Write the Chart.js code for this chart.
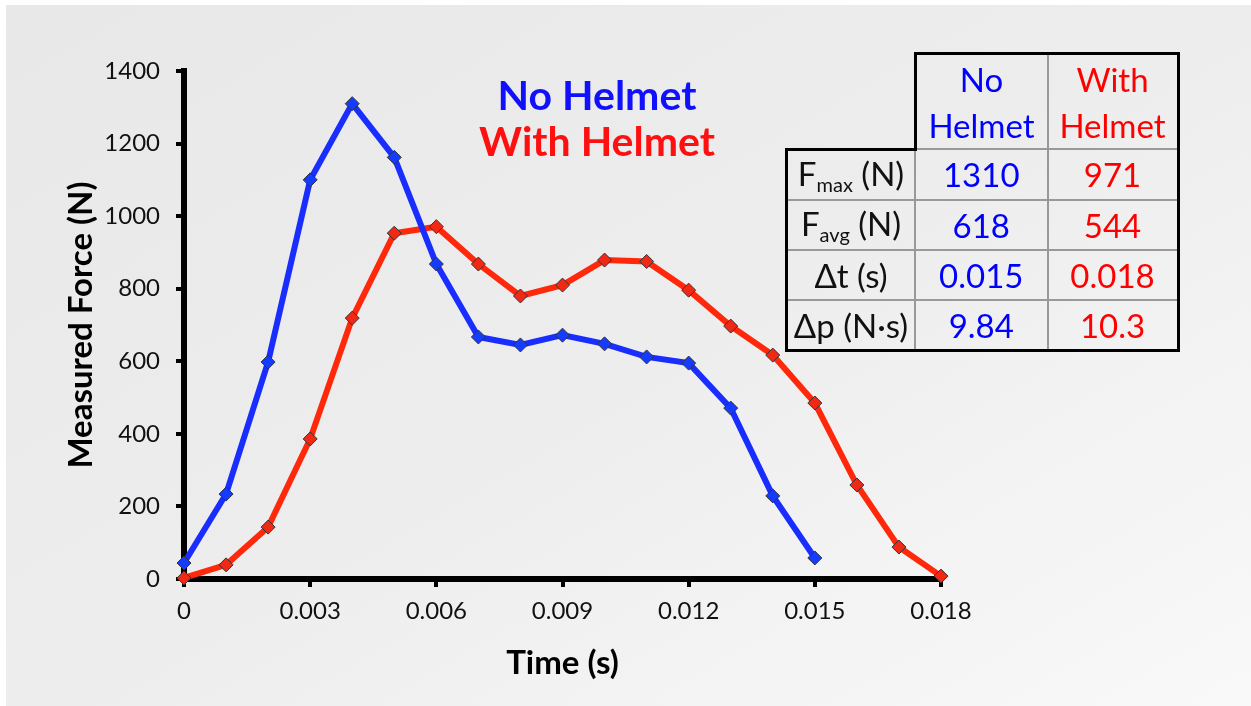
<!DOCTYPE html>
<html>
<head>
<meta charset="utf-8">
<script src="https://cdn.jsdelivr.net/npm/chart.js@4"></script>
<style>
html, body { margin: 0; padding: 0; }
body { width: 1251px; height: 706px; overflow: hidden; background: #fff; position: relative; font-family: Lato, sans-serif; }
#paper { position: absolute; left: 6px; top: 5px; right: 0; bottom: 0;
  background: linear-gradient(150deg, #e8e8e8 0%, #ededed 50%, #f9f9f9 100%); }
#wrap { position: absolute; left: 0; top: 0; width: 1251px; height: 706px; }
.legend { position: absolute; left: 397px; width: 400px; text-align: center; font-weight: bold; font-size: 41px; line-height: 46px; }
#stats { position: absolute; left: 785px; top: 52px; border-collapse: collapse; font-size: 33px; }
#stats td { padding: 0; text-align: center; border: 2px solid #999; }
#stats tr.head td { height: 93px; line-height: 46px; }
#stats tr.body td { height: 48px; }
#stats td.lab { width: 126px; color: #111; }
#stats td.c1 { width: 130px; }
#stats td.c2 { width: 128px; }
#stats sub { font-size: 20px; vertical-align: -6px; }
</style>
</head>
<body>
<div id="paper"></div>
<div id="wrap"><canvas id="myChart" width="1251" height="706"></canvas></div>
<div class="legend" id="leg0" style="top:72px"></div>
<div class="legend" id="leg1" style="top:118px"></div>
<table id="stats"></table>
<script>
// time (s) and measured force (N)
const timeNoHelmet = [0, 0.001, 0.002, 0.003, 0.004, 0.005, 0.006, 0.007, 0.008, 0.009, 0.010, 0.011, 0.012, 0.013, 0.014, 0.015];
const forceNoHelmet = [44, 234, 598, 1100, 1310, 1162, 868, 667, 645, 672, 648, 612, 595, 471, 229, 58];
const timeWithHelmet = [0, 0.001, 0.002, 0.003, 0.004, 0.005, 0.006, 0.007, 0.008, 0.009, 0.010, 0.011, 0.012, 0.013, 0.014, 0.015, 0.016, 0.017, 0.018];
const forceWithHelmet = [3, 39, 143, 386, 719, 953, 971, 868, 780, 810, 879, 875, 796, 697, 617, 485, 259, 88, 8];

const seriesNames = ["No Helmet", "With Helmet"];
const xTicks = [0, 0.003, 0.006, 0.009, 0.012, 0.015, 0.018];
const yTicks = [0, 200, 400, 600, 800, 1000, 1200, 1400];

// table
const statLabels = ["F<sub>max</sub> (N)", "F<sub>avg</sub> (N)", "\u0394t (s)", "\u0394p (N\u00b7s)"];
const statsNoHelmet = ["1310", "618", "0.015", "9.84"];
const statsWithHelmet = ["971", "544", "0.018", "10.3"];

const blueLine = "rgb(25,45,255)";
const redLine = "rgb(255,40,10)";
const blueText = "#0000ff";
const redText = "#ff0000";

document.getElementById("leg0").textContent = seriesNames[0];
document.getElementById("leg0").style.color = "#1010ff";
document.getElementById("leg1").textContent = seriesNames[1];
document.getElementById("leg1").style.color = "#ff1010";

let stats = document.getElementById("stats");
let head = document.createElement("tr");
head.className = "head";
head.innerHTML = '<td class="lab" style="border:none;border-right:3px solid #000;border-bottom:3px solid #000"></td>' +
  '<td class="c1" style="color:' + blueText + ';border-top:3px solid #000">' + seriesNames[0].replace(" ", "<br>") + '</td>' +
  '<td class="c2" style="color:' + redText + ';border-top:3px solid #000;border-right:3px solid #000">' + seriesNames[1].replace(" ", "<br>") + '</td>';
stats.appendChild(head);
for (let i = 0; i < statLabels.length; i++) {
  let tr = document.createElement("tr");
  tr.className = "body";
  let last = i == statLabels.length - 1 ? "border-bottom:3px solid #000;" : "";
  tr.innerHTML = '<td class="lab" style="border-left:3px solid #000;' + last + '">' + statLabels[i] + '</td>' +
    '<td class="c1" style="color:' + blueText + ';' + last + '">' + statsNoHelmet[i] + '</td>' +
    '<td class="c2" style="color:' + redText + ';border-right:3px solid #000;' + last + '">' + statsWithHelmet[i] + '</td>';
  stats.appendChild(tr);
}

function toPoints(xs, ys) {
  return xs.map((x, i) => ({x: x, y: ys[i]}));
}

let ctx = document.getElementById("myChart").getContext("2d");
let myChart = new Chart(ctx, {
  type: "line",
  data: {
    datasets: [{
      label: seriesNames[0],
      data: toPoints(timeNoHelmet, forceNoHelmet),
      borderColor: blueLine,
      backgroundColor: "rgb(20,60,255)",
      pointBorderColor: "#333",
      borderWidth: 6,
      pointStyle: "rectRot",
      pointRadius: 7,
      pointBorderWidth: 1,
      clip: false,
      order: 1
    }, {
      label: seriesNames[1],
      data: toPoints(timeWithHelmet, forceWithHelmet),
      borderColor: redLine,
      backgroundColor: "rgb(240,40,20)",
      pointBorderColor: "#333",
      borderWidth: 6,
      pointStyle: "rectRot",
      pointRadius: 7,
      pointBorderWidth: 1,
      clip: false,
      order: 2
    }]
  },
  options: {
    responsive: false,
    animation: false,
    layout: { padding: { left: 0, top: 71, right: 310, bottom: 0 } },
    plugins: { legend: { display: false }, tooltip: { enabled: false } },
    scales: {
      x: {
        type: "linear",
        min: 0,
        max: 0.018,
        afterBuildTicks: (scale) => { scale.ticks = xTicks.map(v => ({value: v})); },
        afterFit: (scale) => { scale.height = 127; },
        border: { display: true, color: "#000", width: 6 },
        grid: { display: true, drawOnChartArea: false, drawTicks: true, lineWidth: 4, tickLength: 8, tickWidth: 4, color: "#000", tickColor: "#000" },
        ticks: {
          color: "#111",
          padding: 10,
          font: { family: "Lato", size: 24 },
          callback: (v) => v == 0 ? "0" : v.toFixed(3)
        },
        title: {
          display: true,
          text: "Time (s)",
          color: "#000",
          font: { family: "Lato", size: 33, weight: "bold" },
          padding: { top: 23, bottom: 23 }
        }
      },
      y: {
        min: 0,
        max: 1400,
        afterBuildTicks: (scale) => { scale.ticks = yTicks.map(v => ({value: v})); },
        afterFit: (scale) => { scale.width = 184; },
        border: { display: true, color: "#000", width: 6 },
        grid: { display: true, drawOnChartArea: false, drawTicks: true, lineWidth: 4, tickLength: 8, tickWidth: 4, color: "#000", tickColor: "#000" },
        ticks: {
          color: "#111",
          padding: 16,
          font: { family: "Lato", size: 24 },
          callback: (v) => String(v)
        },
        title: {
          display: true,
          text: "Measured Force (N)",
          color: "#000",
          font: { family: "Lato", size: 33, weight: "bold" },
          padding: { top: 62, bottom: 62 }
        }
      }
    }
  }
});
</script>
</body>
</html>
